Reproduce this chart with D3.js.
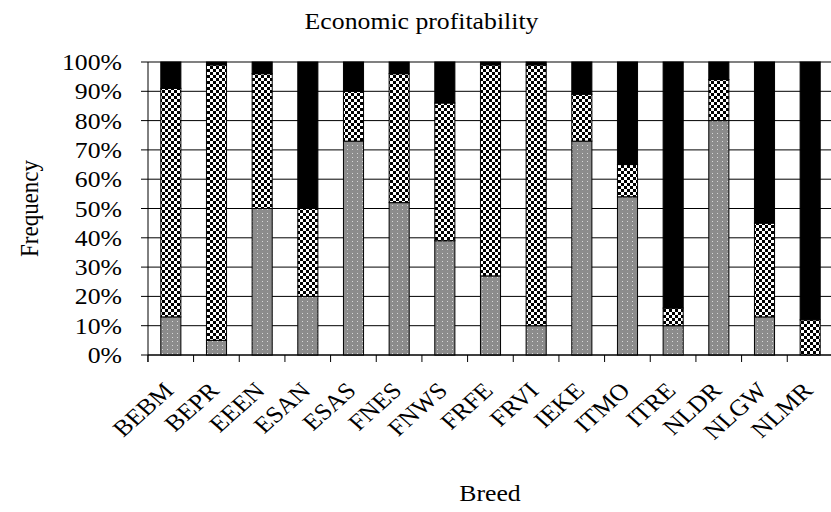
<!DOCTYPE html>
<html>
<head>
<meta charset="utf-8">
<script src="https://cdn.jsdelivr.net/npm/d3@7"></script>
<style>
body { margin: 0; background: #fff; }
text { font-family: "Liberation Serif", "Times New Roman", serif; fill: #000; }
</style>
</head>
<body>
<div id="chart"></div>
<script>
var width = 831
var height = 512
var margin = {top: 62, right: -2, bottom: 157, left: 148}

var breeds = ["BEBM","BEPR","EEEN","ESAN","ESAS","FNES","FNWS","FRFE","FRVI","IEKE","ITMO","ITRE","NLDR","NLGW","NLMR"]
// share of each class per breed (percent)
var dottedPct = [13, 5, 50, 20, 73, 52, 39, 27, 10, 73, 54, 10, 80, 13, 0]
var checkPct  = [78, 94, 46, 30, 17, 44, 47, 72, 89, 16, 11, 6, 14, 32, 12]
var blackPct  = [9, 1, 4, 50, 10, 4, 14, 1, 1, 11, 35, 84, 6, 55, 88]
var yTicks = [0, 0.1, 0.2, 0.3, 0.4, 0.5, 0.6, 0.7, 0.8, 0.9, 1]

var keys = ["dotted", "check", "black"]
var table = breeds.map(function(b, i){
  return {breed: b, dotted: dottedPct[i], check: checkPct[i], black: blackPct[i]}
})

var fs = "23px"
var stretch = 1.12

var svg = d3.select("#chart").append("svg").attr("width", width).attr("height", height)
var defs = svg.append("defs")

// checker pattern
var pc = defs.append("pattern").attr("id","check").attr("patternUnits","userSpaceOnUse")
  .attr("width",6).attr("height",6)
pc.append("rect").attr("width",6).attr("height",6).attr("fill","#fff")
pc.append("rect").attr("width",3).attr("height",3).attr("fill","#000")
pc.append("rect").attr("x",3).attr("y",3).attr("width",3).attr("height",3).attr("fill","#000")

// dotted gray pattern
var pd = defs.append("pattern").attr("id","dotted").attr("patternUnits","userSpaceOnUse")
  .attr("width",5).attr("height",4)
pd.append("rect").attr("width",5).attr("height",4).attr("fill","#8c8c8c")
pd.append("rect").attr("x",2).attr("y",1).attr("width",1).attr("height",1).attr("fill","#d8d8d8")

var fills = {dotted: "url(#dotted)", check: "url(#check)", black: "#000"}

var x = d3.scaleBand().domain(breeds)
          .range([margin.left, width - margin.right])
          .paddingInner(0.56).paddingOuter(0.28)
var y = d3.scaleLinear().domain([0, 1]).range([height - margin.bottom, margin.top])

// gridlines
svg.append("g").selectAll("line")
   .data(yTicks)
   .enter()
   .append("line")
   .attr("x1", margin.left).attr("x2", width)
   .attr("y1", function(d){ return y(d) }).attr("y2", function(d){ return y(d) })
   .style("stroke", function(d){ return d == 1 ? "#808080" : "#000" })
   .style("stroke-width", function(d){ return d == 1 ? 2 : 1 })

// bars
var series = d3.stack().keys(keys)(table)
svg.append("g").selectAll("g")
   .data(series)
   .enter()
   .append("g")
   .attr("fill", function(d){ return fills[d.key] })
   .selectAll("rect")
   .data(function(d){ return d })
   .enter()
   .append("rect")
   .attr("x", function(d){ return x(d.data.breed) })
   .attr("width", x.bandwidth())
   .attr("y", function(d){ return y(d[1] / 100) })
   .attr("height", function(d){ return y(d[0] / 100) - y(d[1] / 100) })
   .style("stroke", "#000")
   .style("stroke-width", 1)
   .style("display", function(d){ return d[1] - d[0] > 0 ? null : "none" })

// y axis
var yAxis = svg.append("g").attr("transform", "translate(" + margin.left + ",0)")
yAxis.append("line").attr("x1",0).attr("x2",0).attr("y1", y(1)).attr("y2", y(0) + 7).style("stroke","#000")
var yt = yAxis.selectAll(".tick").data(yTicks).enter().append("g")
   .attr("transform", function(d){ return "translate(0," + y(d) + ")" })
yt.append("line").attr("x1",-7).attr("x2",0).style("stroke","#000")
yt.append("text")
  .attr("transform", "translate(-26,0) scale(" + stretch + ",1)")
  .attr("text-anchor","end")
  .attr("dy","0.35em")
  .style("font-size", fs)
  .text(function(d){ return d3.format(".0%")(d) })

// x axis
var xAxis = svg.append("g")
xAxis.append("line").attr("x1", margin.left).attr("x2", width).attr("y1", y(0)).attr("y2", y(0)).style("stroke","#000")
xAxis.selectAll(".tk").data(breeds).enter().append("line")
   .attr("x1", function(d){ return x(d) - x.bandwidth() * 0.64 }).attr("x2", function(d){ return x(d) - x.bandwidth() * 0.64 })
   .attr("y1", y(0)).attr("y2", y(0) + 7)
   .style("stroke","#000")
xAxis.selectAll("text").data(breeds).enter().append("text")
   .attr("transform", function(d){
     return "translate(" + (x(d) + x.bandwidth() / 2 + 4) + "," + (y(0) + 37) + ") scale(" + stretch + ",1) rotate(-45)"
   })
   .attr("text-anchor","end")
   .style("font-size", fs)
   .text(function(d){ return d })

// titles
svg.append("text")
   .attr("transform", "translate(" + (width / 2 + 6) + ",29) scale(" + stretch + ",1)")
   .attr("text-anchor","middle")
   .style("font-size", fs)
   .text("Economic profitability")
svg.append("text")
   .attr("transform", "translate(490,501) scale(" + stretch + ",1)")
   .attr("text-anchor","middle")
   .style("font-size", fs)
   .text("Breed")
svg.append("text")
   .attr("transform", "translate(38," + ((y(0) + y(1)) / 2) + ") scale(" + stretch + ",1) rotate(-90)")
   .attr("text-anchor","middle")
   .style("font-size", fs)
   .text("Frequency")
</script>
</body>
</html>
